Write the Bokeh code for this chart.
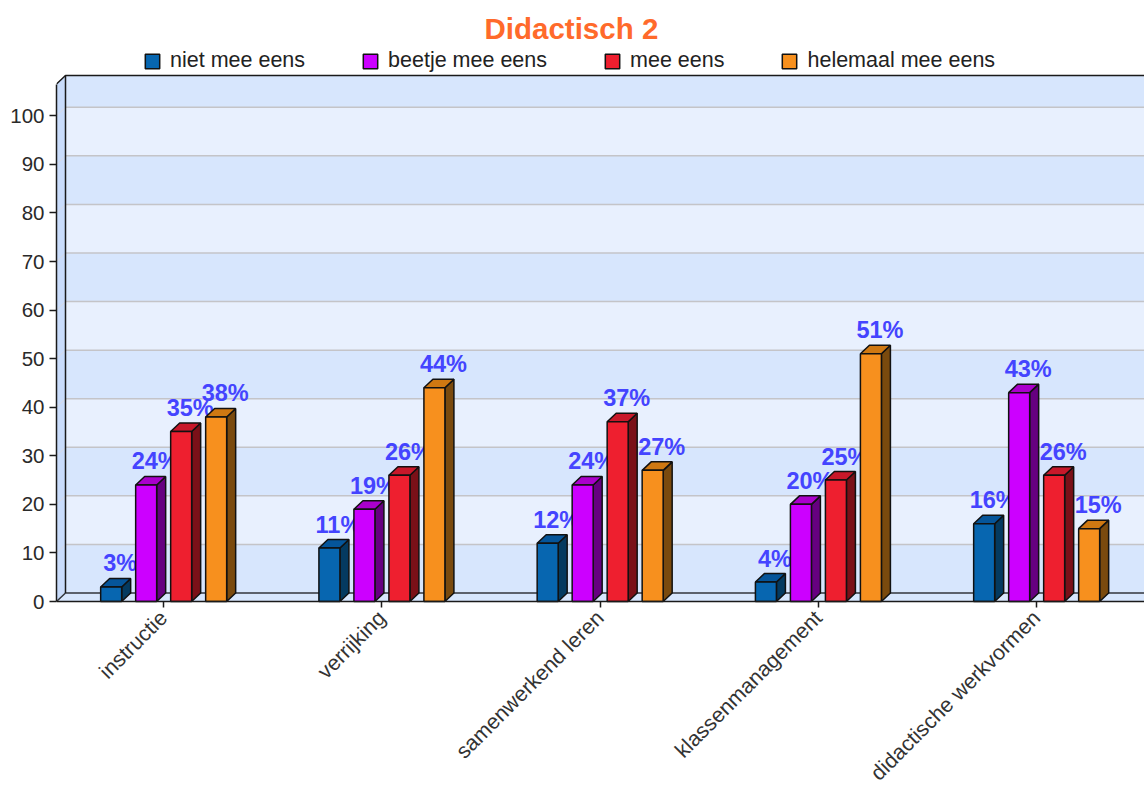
from bokeh.plotting import figure
from bokeh.models import Range1d, FixedTicker, Legend, LegendItem, ColumnDataSource
from bokeh.core.properties import value
from bokeh.embed import file_html
from bokeh.resources import INLINE
import math

title = "Didactisch 2"
categories = ["instructie", "verrijking", "samenwerkend leren", "klassenmanagement", "didactische werkvormen"]
series_names = ["niet mee eens", "beetje mee eens", "mee eens", "helemaal mee eens"]
niet_mee_eens = [3, 11, 12, 4, 16]
beetje_mee_eens = [24, 19, 24, 20, 43]
mee_eens = [35, 26, 37, 25, 26]
helemaal_mee_eens = [38, 44, 27, 51, 15]
y_ticks = list(range(0, 110, 10))

series_values = [niet_mee_eens, beetje_mee_eens, mee_eens, helemaal_mee_eens]
front_colors = ["#0766b0", "#cc00ff", "#ee1f2f", "#f7901e"]
top_colors = ["#05559a", "#aa00cc", "#c8182a", "#cf7812"]
side_colors = ["#043a60", "#660080", "#7a1018", "#7a4a0e"]

FONT = "Liberation Sans"
W, H = 1144, 785
BL, BB, BT = 56, 184, 48   # BB: pixels below the zero line, inside the frame
WALL_H = 526           # pixels from the axis to the top of the back wall
PX_X = 218.25          # pixels per category
PX_Y = 4.857           # pixels per y unit
FW, FH = W - BL, H - BT
dx, dy = 9 / PX_X, 8.5 / PX_Y
bar_w, pitch = 21 / PX_X, 35 / PX_X
x0 = 0.009
x1 = x0 + FW / PX_X
y1 = WALL_H / PX_Y
y_start = -BB / PX_Y
y_end = (FH - BB) / PX_Y
centers = [i + 0.5 for i in range(len(categories))]

p = figure(width=W, height=H, output_backend="svg", toolbar_location=None,
           x_range=Range1d(x0, x1), y_range=Range1d(y_start, y_end),
           min_border_left=BL, min_border_bottom=0, min_border_top=BT, min_border_right=0,
           title=title)
p.outline_line_color = None
p.grid.visible = False
p.title.text_font = FONT
p.title.text_font_size = "29.5px"
p.title.text_font_style = "bold"
p.title.text_color = "#ff6a2b"
p.title.align = "left"
p.title.offset = 428
p.title.standoff = 8

# axes
ya = p.yaxis[0]
ya.ticker = FixedTicker(ticks=y_ticks)
ya.bounds = (0, y1 - dy)
ya.major_tick_out = 7
ya.major_tick_in = 0
ya.minor_tick_line_color = None
ya.major_label_standoff = 5
ya.major_label_text_font = FONT
ya.major_label_text_font_size = "20.5px"
ya.major_label_text_color = "#2a2a2a"
ya.axis_line_color = "#1a1a1a"
ya.axis_line_width = 1.5
ya.major_tick_line_color = "#1a1a1a"
ya.major_tick_line_width = 1.5

xa = p.xaxis[0]
xa.fixed_location = 0
xa.ticker = FixedTicker(ticks=centers)
xa.major_label_overrides = {c: n for c, n in zip(centers, categories)}
xa.major_label_orientation = math.pi / 4
xa.major_tick_out = 6
xa.major_tick_in = 0
xa.minor_tick_line_color = None
xa.major_label_standoff = 7
xa.major_label_text_font = FONT
xa.major_label_text_font_size = "21.4px"
xa.major_label_text_color = "#333333"
xa.axis_line_color = "#1a1a1a"
xa.axis_line_width = 1.5
xa.major_tick_line_color = "#1a1a1a"
xa.major_tick_line_width = 1.5

# walls
DARK, LIGHT, SIDE = "#d7e6fd", "#e8f0fe", "#c9dcfb"
p.quad(left=x0, right=x1, bottom=0, top=dy, fill_color=DARK, line_color=None)
band_bottom = [t + dy for t in y_ticks]
band_top = [min(t + 10 + dy, y1) for t in y_ticks]
band_color = [DARK if (t // 10) % 2 == 0 else LIGHT for t in y_ticks]
p.quad(left=x0 + dx, right=x1, bottom=band_bottom, top=band_top, fill_color=band_color, line_color=None)
p.patch([x0, x0 + dx, x0 + dx, x0], [0, dy, y1, y1 - dy], fill_color=SIDE, line_color=None)

grid_y = [t + dy for t in y_ticks[1:]]
p.segment(x0=x0 + dx, x1=x1, y0=grid_y, y1=grid_y, line_color="#c4c4c8", line_width=1.5)
p.segment(x0=x0, x1=x0 + dx, y0=y_ticks[1:], y1=grid_y, line_color="#d8dae4", line_width=1)
p.line([x1, x0 + dx, x0], [dy, dy, 0], line_color="#33363c", line_width=1.5)
p.line([x0, x0 + dx, x0 + dx, x1], [y1 - dy, y1, y1, y1], line_color="#1a1a1a", line_width=1.5)
p.line([x0 + dx, x0 + dx], [dy, y1], line_color="#1a1a1a", line_width=1.5)

# bars, one series at a time so that later bars cover earlier labels
legend_items = []
group_w = pitch * (len(series_names) - 1) + bar_w
label_gap = 15 / PX_Y
for s, (name, vals) in enumerate(zip(series_names, series_values)):
    lefts = [c - group_w / 2 + s * pitch for c in centers]
    rights = [l + bar_w for l in lefts]
    p.patches([[r, r + dx, r + dx, r] for r in rights],
              [[0, dy, v + dy, v] for v in vals],
              fill_color=side_colors[s], line_color="#111111", line_width=1.5)
    p.patches([[l, r, r + dx, l + dx] for l, r in zip(lefts, rights)],
              [[v, v, v + dy, v + dy] for v in vals],
              fill_color=top_colors[s], line_color="#111111", line_width=1.5)
    front = p.quad(left=lefts, right=rights, bottom=0, top=vals,
                   fill_color=front_colors[s], line_color="#111111", line_width=1.5)
    legend_items.append(LegendItem(label=name, renderers=[front]))
    src = ColumnDataSource(dict(x=[(l + r) / 2 + dx for l, r in zip(lefts, rights)],
                                y=[v + dy + label_gap for v in vals],
                                t=[f"{v}%" for v in vals]))
    p.text("x", "y", text="t", source=src, text_align="center", text_baseline="alphabetic",
           text_font=value(FONT), text_font_style="bold",
           text_font_size="23.5px", text_color="#4444ff")

legend = Legend(items=legend_items, orientation="horizontal", location=(87, H - 73),
                background_fill_alpha=0, border_line_color=None,
                padding=0, margin=0, spacing=56, label_standoff=9,
                glyph_width=18, glyph_height=18,
                label_text_font=FONT, label_text_font_size="21.5px", label_text_color="#222222")
p.add_layout(legend, "center")

open("out.html", "w").write(file_html(p, INLINE))
